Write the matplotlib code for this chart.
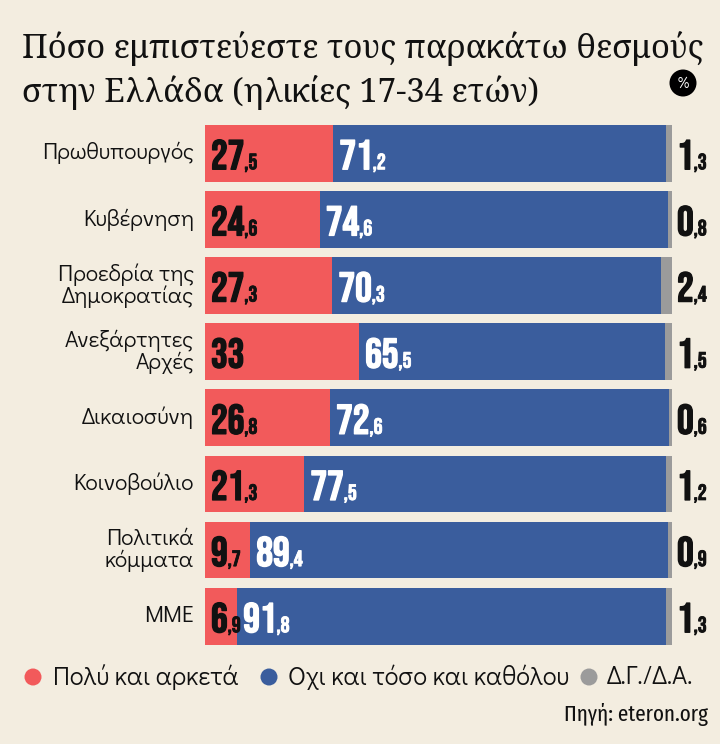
import matplotlib
matplotlib.use("Agg")
import matplotlib.pyplot as plt
import matplotlib.patheffects as pe
from matplotlib.patches import Ellipse

# data
categories = ['Πρωθυπουργός', 'Κυβέρνηση', 'Προεδρία της\nΔημοκρατίας', 'Ανεξάρτητες\nΑρχές',
              'Δικαιοσύνη', 'Κοινοβούλιο', 'Πολιτικά\nκόμματα', 'ΜΜΕ']
poly_kai_arketa = [27.5, 24.6, 27.3, 33, 26.8, 21.3, 9.7, 6.9]
oxi_kai_katholou = [71.2, 74.6, 70.3, 65.5, 72.6, 77.5, 89.4, 91.8]
dg_da = [1.3, 0.8, 2.4, 1.5, 0.6, 1.2, 0.9, 1.3]
series_names = ['Πολύ και αρκετά', 'Οχι και τόσο και καθόλου', 'Δ.Γ./Δ.Α.']

BG = '#F3EDE0'
RED = '#F25A5B'
BLUE = '#3A5D9D'
GREY = '#9B9B9B'
NUM_FONT = ['Bebas Neue', 'DejaVu Sans']
LBL_FONT = ['Didact Gothic', 'DejaVu Sans']

W, H = 720, 744
fig = plt.figure(figsize=(W / 100, H / 100), dpi=100, facecolor=BG)
ax = fig.add_axes([205 / W, 1 - 649.3 / H, 467 / W, 529.1 / H])
ax.set_facecolor(BG)

y = list(range(len(categories)))
left_blue = poly_kai_arketa
left_grey = [a + b for a, b in zip(poly_kai_arketa, oxi_kai_katholou)]
bh = 0.857
ax.barh(y, poly_kai_arketa, height=bh, color=RED)
ax.barh(y, oxi_kai_katholou, left=left_blue, height=bh, color=BLUE)
ax.barh(y, dg_da, left=left_grey, height=bh, color=GREY)

ax.set_xlim(0, 100)
ax.set_ylim(len(categories) - 0.5, -0.5)
ax.axis('off')

renderer = fig.canvas.get_renderer()


def num_label(x, yy, value, color, dx):
    s = f'{value:.1f}'.replace('.', ',')
    whole, dec = s.split(',')
    t = ax.annotate(whole, xy=(x, yy), xytext=(dx, -16), textcoords='offset pixels',
                    ha='left', va='baseline', fontsize=30, family=NUM_FONT, color=color,
                    path_effects=[pe.withStroke(linewidth=1.0, foreground=color)],
                    annotation_clip=False)
    if dec != '0':
        w = t.get_window_extent(renderer).width
        ax.annotate(',' + dec, xy=(x, yy), xytext=(dx + w, -16), textcoords='offset pixels',
                    ha='left', va='baseline', fontsize=16, family=NUM_FONT, color=color,
                    path_effects=[pe.withStroke(linewidth=0.6, foreground=color)],
                    annotation_clip=False)


for i in y:
    ax.annotate(categories[i], xy=(0, i), xytext=(-11, 0), textcoords='offset pixels',
                ha='right', va='center', multialignment='right', linespacing=1.0,
                fontsize=16.5, family=LBL_FONT, color='#111111', annotation_clip=False)
    num_label(0, i, poly_kai_arketa[i], '#111111', 6)
    num_label(left_blue[i], i, oxi_kai_katholou[i], 'white', 6)
    num_label(100, i, dg_da[i], '#111111', 5)

# title
t1 = fig.text(22 / W, 1 - 58 / H, 'Πόσο εμπιστεύεστε τους παρακάτω θεσμούς',
              ha='left', va='baseline', fontsize=26, family=['Noto Serif', 'DejaVu Serif'], color='#111111')
w1 = t1.get_window_extent(renderer).width
t1.set_fontsize(26 * 683 / w1)
fig.text(22 / W, 1 - 102 / H, 'στην Ελλάδα (ηλικίες 17-34 ετών)',
         ha='left', va='baseline', fontsize=t1.get_fontsize(), family=['Noto Serif', 'DejaVu Serif'],
         color='#111111')

# percent badge
fig.add_artist(Ellipse((683 / W, 1 - 83 / H), 27 / W, 27 / H, transform=fig.transFigure,
                       facecolor='black', edgecolor='none'))
fig.text(683 / W, 1 - 83 / H, '%', ha='center', va='center', fontsize=11,
         family=LBL_FONT, color='white')

# legend
leg_y = 1 - 677 / H
for cx, tx, col, name in zip([33, 269, 589], [53, 288, 607], [RED, BLUE, GREY], series_names):
    fig.add_artist(Ellipse((cx / W, leg_y), 17 / W, 17 / H, transform=fig.transFigure,
                           facecolor=col, edgecolor='none'))
    fig.text(tx / W, leg_y, name, ha='left', va='center', fontsize=18.5,
             family=LBL_FONT, color='#111111')

fig.text(708 / W, 1 - 715 / H, 'Πηγή: eteron.org', ha='right', va='center', fontsize=16.5,
         family=['Fira Sans Extra Condensed', 'DejaVu Sans'], color='#111111')

fig.savefig('out.png', dpi=100, facecolor=BG)
